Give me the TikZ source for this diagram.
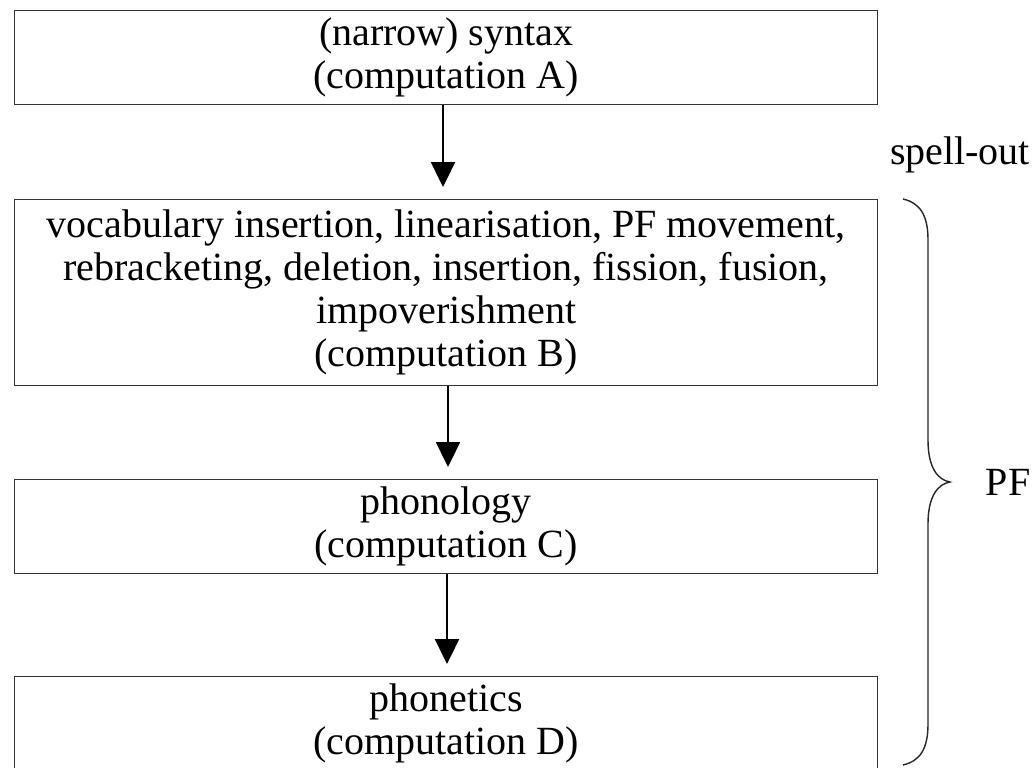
\documentclass[tikz,border=0pt]{standalone}
\usepackage{fontspec}
\setmainfont{Liberation Serif}
\usetikzlibrary{arrows.meta}
\begin{document}
\begin{tikzpicture}[x=1pt,y=-1pt,
  stagebox/.style={draw=black!80,line width=1.4pt,minimum width=863pt,inner sep=0pt,align=center,
    font=\fontsize{40}{43}\selectfont,anchor=north west},
  flow/.style={line width=2.4pt,-{Triangle[width=24pt,length=25pt]},shorten >=12pt},
  lbl/.style={font=\fontsize{40}{43}\selectfont,inner sep=0pt}]
\useasboundingbox (0,0) rectangle (1034,768);
\clip (0,0) rectangle (1034,768);
\node[stagebox,minimum height=94pt] (a) at (14,10) {(narrow) syntax\\(computation A)};
\node[stagebox,minimum height=186pt] (b) at (14,199) {vocabulary insertion, linearisation, PF movement,\\rebracketing, deletion, insertion, fission, fusion,\\impoverishment\\(computation B)};
\node[stagebox,minimum height=94pt] (c) at (14,479) {phonology\\(computation C)};
\node[stagebox,minimum height=94pt] (d) at (14,676) {phonetics\\(computation D)};
\coordinate (x1) at (443,0);
\coordinate (x2) at (448,0);
\coordinate (x3) at (447,0);
\draw[flow] (a.south -| x1) -- (b.north -| x1);
\draw[flow] (b.south -| x2) -- (c.north -| x2);
\draw[flow] (c.south -| x3) -- (d.north -| x3);
\node[lbl] (so) at (960,155) {spell-out};
\node[lbl] (pf) at (1008,482) {PF};
\draw[line width=1.4pt,black!85]
  (903,199) .. controls (920,203) and (928,215) .. (928,240)
  -- (928,440) .. controls (928,468) and (938,480) .. (950,482)
  .. controls (938,484) and (928,496) .. (928,524)
  -- (928,724) .. controls (928,749) and (920,761) .. (903,765);
\end{tikzpicture}
\end{document}
